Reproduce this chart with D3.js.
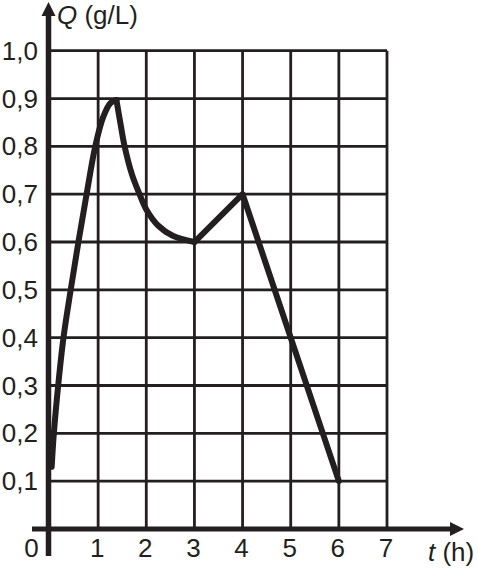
<!DOCTYPE html>
<html>
<head>
<meta charset="utf-8">
<script src="https://cdn.jsdelivr.net/npm/d3@7"></script>
<style>
  html, body { margin: 0; padding: 0; background: #fff; }
  svg { display: block; }
  text { font-family: "Liberation Sans", Arial, sans-serif; fill: #231f20; }
</style>
</head>
<body>
<svg id="chart" width="478" height="572"></svg>
<script>
// Data
const tTicks = [1, 2, 3, 4, 5, 6, 7];
const qTicks = [0.1, 0.2, 0.3, 0.4, 0.5, 0.6, 0.7, 0.8, 0.9, 1.0];

// rising part (up to the peak)
const tRise = [0.035, 0.08, 0.17, 0.28, 0.43, 0.59, 0.76, 0.94, 1.1, 1.25, 1.38];
const qRise = [0.13, 0.2, 0.3, 0.4, 0.5, 0.6, 0.7, 0.8, 0.86, 0.89, 0.897];
// decay after the peak
const tFall = [1.38, 1.46, 1.55, 1.7, 1.86, 2.0, 2.25, 2.55, 3.0];
const qFall = [0.897, 0.85, 0.8, 0.742, 0.7, 0.668, 0.634, 0.613, 0.6];
// straight segments
const tLine = [3, 4, 6];
const qLine = [0.6, 0.7, 0.1];

const ink = '#231f20';
const svg = d3.select('#chart');

const x = d3.scaleLinear().domain([0, 7]).range([50, 387]);
const y = d3.scaleLinear().domain([0, 1]).range([529, 50.7]);

const fmt = d3.formatLocale({ decimal: ',', thousands: '.', grouping: [3], currency: ['', ''] }).format('.1f');

// grid
const grid = svg.append('g').attr('stroke', ink).attr('stroke-width', 2.8);
grid.selectAll('.h').data(qTicks).enter().append('line')
    .attr('x1', x(0)).attr('x2', x(7))
    .attr('y1', d => y(d)).attr('y2', d => y(d));
grid.selectAll('.v').data(tTicks).enter().append('line')
    .attr('x1', d => x(d)).attr('x2', d => x(d))
    .attr('y1', y(1)).attr('y2', y(0));

// axes
svg.append('line').attr('x1', 32).attr('x2', 452).attr('y1', y(0)).attr('y2', y(0))
    .attr('stroke', ink).attr('stroke-width', 5);
svg.append('path').attr('d', `M450,${y(0) - 7}L464,${y(0)}L450,${y(0) + 7}Z`).attr('fill', ink);

svg.append('line').attr('x1', x(0) - 1.5).attr('x2', x(0) - 1.5).attr('y1', 14).attr('y2', 556)
    .attr('stroke', ink).attr('stroke-width', 5.5);
svg.append('path').attr('d', `M${x(0) - 8.5},16L${x(0) - 1.5},2L${x(0) + 5.5},16Z`).attr('fill', ink);

// tick labels
svg.selectAll('.ql').data(qTicks).enter().append('text')
    .attr('x', 38).attr('y', d => y(d) + 9)
    .attr('text-anchor', 'end').attr('font-size', 26)
    .text(d => fmt(d));

svg.selectAll('.tl').data(tTicks).enter().append('text')
    .attr('x', d => x(d) - 1).attr('y', 556.5)
    .attr('text-anchor', 'middle').attr('font-size', 26)
    .text(d => d);
svg.append('text').attr('x', 31.5).attr('y', 556.5).attr('text-anchor', 'middle')
    .attr('font-size', 26).text('0');

// axis titles
const qt = svg.append('text').attr('x', 57).attr('y', 24).attr('font-size', 26);
qt.append('tspan').attr('font-style', 'italic').text('Q');
qt.append('tspan').text(' (g/L)');

const tt = svg.append('text').attr('x', 428).attr('y', 561).attr('font-size', 26);
tt.append('tspan').attr('font-style', 'italic').text('t');
tt.append('tspan').text(' (h)');

// curve
const line = d3.line().x(d => x(d[0])).y(d => y(d[1]));
const curveStyle = sel => sel.attr('fill', 'none').attr('stroke', ink)
    .attr('stroke-width', 6).attr('stroke-linejoin', 'round').attr('stroke-linecap', 'round');

svg.append('path').datum(d3.zip(tRise, qRise))
    .attr('d', line.curve(d3.curveCatmullRom.alpha(0.5))).call(curveStyle);
svg.append('path').datum(d3.zip(tFall, qFall))
    .attr('d', line.curve(d3.curveCatmullRom.alpha(0.5))).call(curveStyle);
svg.append('path').datum(d3.zip(tLine, qLine))
    .attr('d', line.curve(d3.curveLinear)).call(curveStyle);
</script>
</body>
</html>
